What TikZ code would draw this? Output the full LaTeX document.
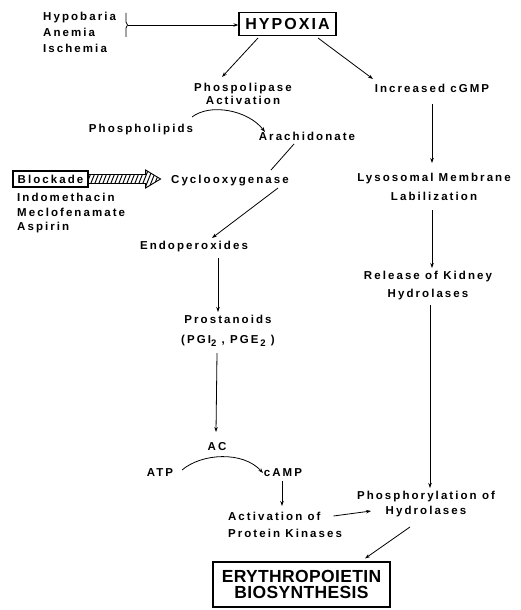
\documentclass[tikz,border=0pt]{standalone}
\usepackage{fontspec}
\setmainfont{Liberation Sans}
\newfontfamily\lblfont{Liberation Sans Bold}[LetterSpace=18]
\newfontfamily\hypfont{Liberation Sans Bold}[LetterSpace=13]
\newfontfamily\eryfont{Liberation Sans Bold}[LetterSpace=2]
\usetikzlibrary{calc,arrows.meta}
\newcommand{\lowsub}[1]{\raisebox{-2.6pt}{\fontsize{9.5}{10}\selectfont #1}}
\begin{document}
\begin{tikzpicture}[x=1pt,y=-1pt,
  lbl/.style={font=\lblfont\fontsize{11.5}{#1}\selectfont, inner sep=0pt, align=center},
  lbl/.default=14,
  one/.style={text height=8.3pt, text depth=0pt},
  arr/.style={-{Stealth[length=5pt,width=3.5pt]}, line width=0.8pt},
  ln/.style={line width=0.8pt},
  boxed/.style={draw, line width=1.2pt}]
\useasboundingbox (0,0) rectangle (521,610);

% nodes
\node[boxed, minimum width=97pt, minimum height=23pt, inner sep=0pt, text height=11.5pt, text depth=0pt,
      font=\hypfont\fontsize{16}{18}\selectfont] (hyp) at (287.5,24) {HYPOXIA};
\node[lbl=16, align=left, anchor=west] (src) at (43,32) {Hypobaria\\Anemia\\Ischemia};
\node[lbl=12.5] (phos) at (243,94) {Phospolipase\\Activation};
\node[lbl, one] (cgmp) at (432,88) {Increased cGMP};
\node[lbl, one] (plip) at (141,128) {Phospholipids};
\node[lbl, one] (arach) at (307,136) {Arachidonate};
\node[lbl, one] (cox) at (230,179.5) {Cyclooxygenase};
\node[boxed, minimum width=75pt, minimum height=16pt, inner sep=0pt, text height=8.3pt, text depth=0pt,
      font=\lblfont\fontsize{11.5}{13}\selectfont] (block) at (50.5,179) {Blockade};
\node[lbl=14.5, align=left, anchor=west] (drugs) at (17,213.5) {Indomethacin\\Meclofenamate\\Aspirin};
\node[lbl, one] (endo) at (194,245) {Endoperoxides};
\node[lbl=20] (prost) at (228,331) {Prostanoids\\(PGI\lowsub{2} , PGE\,\lowsub{2} )};
\node[lbl=19] (lys) at (434,186.5) {Lysosomal Membrane\\Labilization};
\node[lbl=18] (rel) at (428,286) {Release of Kidney\\Hydrolases};
\node[lbl, one] (ac) at (217,446) {AC};
\node[lbl, one] (atp) at (160,472) {ATP};
\node[lbl, one] (camp) at (283,472) {cAMP};
\node[lbl=17, align=left] (pk) at (285,525) {Activation of\\Protein Kinases};
\node[lbl=15] (phh) at (426,504.5) {Phosphorylation of\\Hydrolases};
\node[boxed, minimum width=177pt, minimum height=45pt, inner sep=0pt, align=center,
      font=\eryfont\fontsize{17.5}{16.5}\selectfont] (ery) at (301.5,584.5) {ERYTHROPOIETIN\\BIOSYNTHESIS};

% brace
\draw[ln] (126,13) -- (126,22) -- (127.5,25) -- (126,28) -- (126,37);
\coordinate (br) at (127.5,25);
\draw[arr] (br) -- (br -| hyp.west);

% connectors
\draw[arr] ($(hyp)+(-29.5,14)$) -- ($(phos)+(-21,-17)$);
\draw[arr] ($(hyp)+(30.5,14)$) -- ($(cgmp)+(-59,-9)$);
\draw[arr] ($(plip)+(51,-11)$) .. controls ($(plip)+(69,-25)$) and ($(arach)+(-59,-26)$) .. ($(arach)+(-42,-4)$);
\draw[ln] ($(arach)+(-13,8)$) -- ($(cox)+(41,-9.5)$);
\draw[arr] ($(cox)+(48,8.5)$) -- ($(endo)+(18,-7)$);
\draw[arr] ($(endo)+(24,13)$) -- ($(prost)+(-10,-19)$);
\draw[arr] ($(prost)+(-11,22)$) -- ($(ac)+(-1,-14)$);
\draw[arr] ($(atp)+(22,-2)$) .. controls ($(atp)+(42,-19)$) and ($(camp)+(-40,-21)$) .. ($(camp)+(-20,1)$);
\draw[arr] ($(camp)+(-1,9)$) -- ($(pk)+(-3,-19)$);
\draw[arr] ($(pk)+(48.5,-9)$) -- ($(phh)+(-55,6.5)$);
\draw[arr] ($(cgmp)+(0,16)$) -- ($(lys)+(-2,-23.5)$);
\draw[arr] ($(lys)+(-2,23.5)$) -- ($(rel)+(4,-18)$);
\draw[arr] ($(rel)+(2,19)$) -- ($(phh)+(4,-16.5)$);
\draw[arr] ($(phh)+(-16,22.5)$) -- ($(ery)+(63.5,-26)$);

% hatched block arrow
\coordinate (h0) at (block.east);
\begin{scope}
  \clip ($(h0)+(0,-4.5)$) -- ($(h0)+(57,-4.5)$) -- ($(h0)+(57,-9)$) -- ($(h0)+(72,0)$)
     -- ($(h0)+(57,9)$) -- ($(h0)+(57,4.5)$) -- ($(h0)+(0,4.5)$) -- cycle;
  \foreach \i in {-8,-4,...,84} \draw[line width=1pt] ($(h0)+(\i-4,10)$) -- ($(h0)+(\i+4,-10)$);
\end{scope}
\draw[line width=0.9pt, line join=miter] ($(h0)+(0,-4.5)$) -- ($(h0)+(57,-4.5)$) -- ($(h0)+(57,-9)$) -- ($(h0)+(72,0)$)
     -- ($(h0)+(57,9)$) -- ($(h0)+(57,4.5)$) -- ($(h0)+(0,4.5)$);
\end{tikzpicture}
\end{document}
